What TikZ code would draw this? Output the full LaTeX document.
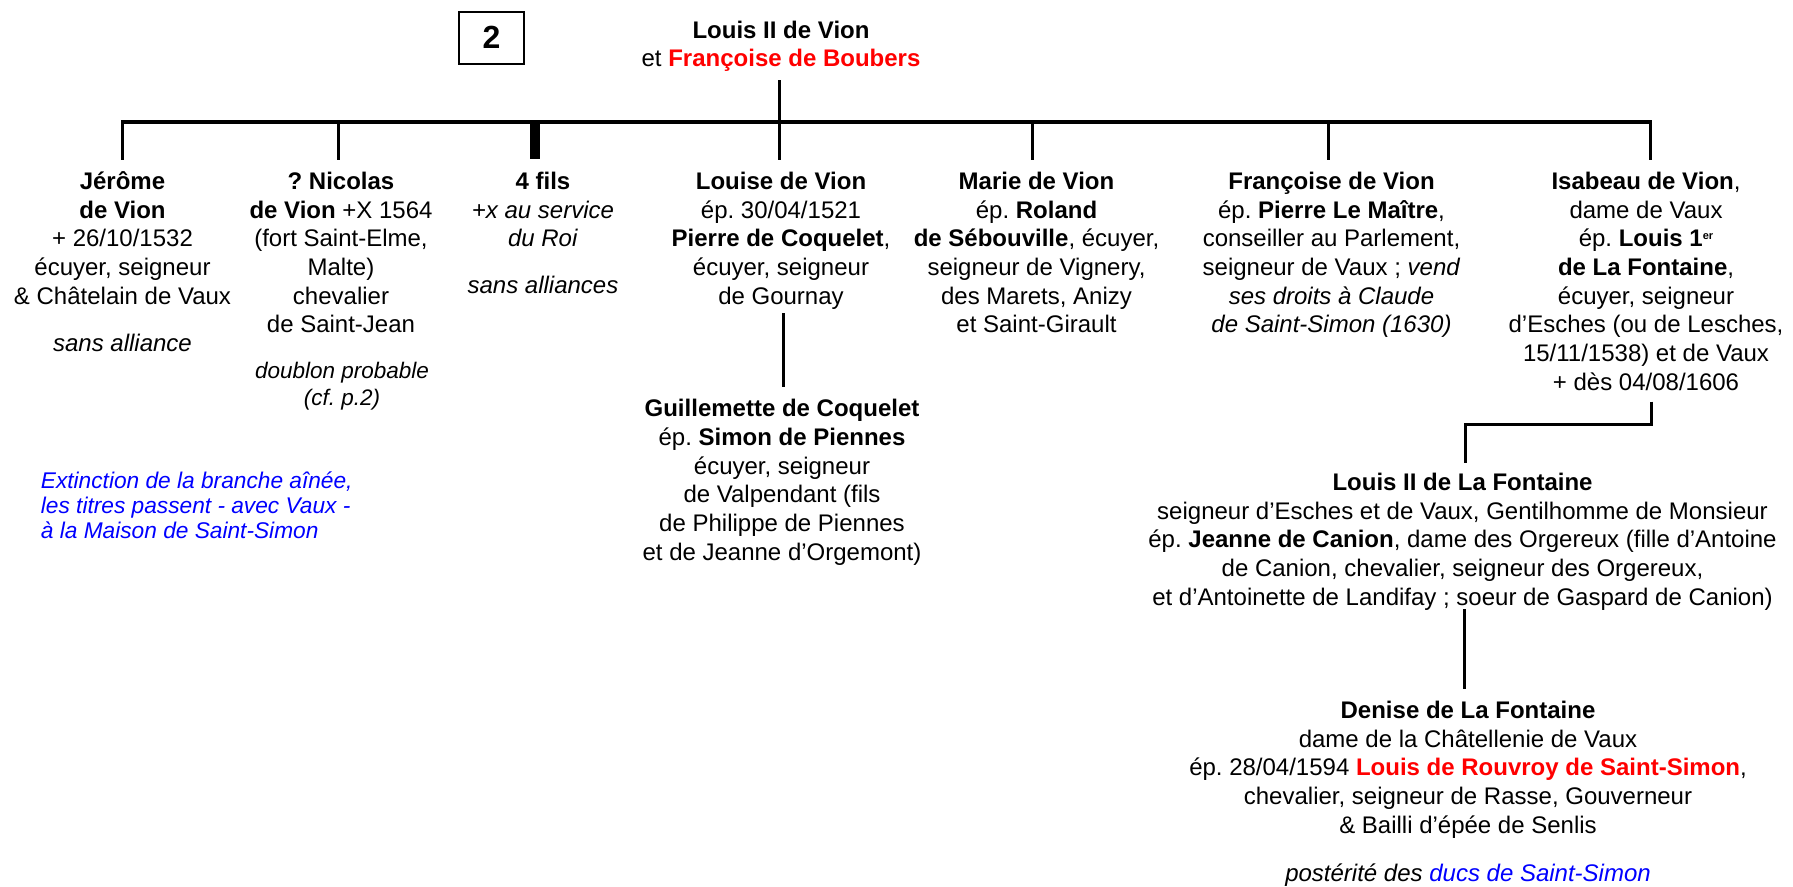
\documentclass[tikz,border=0pt]{standalone}
\usepackage{fontspec}
\setmainfont{Liberation Sans}
\usepackage{xcolor}
\definecolor{fred}{RGB}{255,0,0}
\definecolor{fblue}{RGB}{0,0,255}
\frenchspacing
\newcommand\lns[1]{\vtop{\lineskiplimit=-\maxdimen\lineskip=0pt\halign{\hfil##\hfil\cr#1\crcr}}}
\newcommand\lnsl[1]{\vtop{\lineskiplimit=-\maxdimen\lineskip=0pt\halign{##\hfil\cr#1\crcr}}}
\newcommand\supr[1]{\raisebox{7.5pt}{\fontsize{11}{11}\selectfont #1}}
\begin{document}
\begin{tikzpicture}[x=1pt,y=-1pt,
  txt/.style={anchor=base, inner sep=0pt, font=\fontsize{24}{28.7}\selectfont},
  small/.style={anchor=base, inner sep=0pt, font=\fontsize{22.5}{27}\selectfont\itshape},
  note/.style={anchor=base west, inner sep=0pt, text=fblue, font=\fontsize{22.7}{25}\selectfont\itshape},
  bar/.style={line width=4pt},
  link/.style={line width=3pt},
  thick link/.style={line width=10pt}]
\useasboundingbox (0,0) rectangle (1793,886);

% box 2
\node[draw, line width=2pt, minimum width=65pt, minimum height=52pt, inner sep=0pt,
  font=\fontsize{32}{36}\selectfont\bfseries] (box2) at (491.5,37.5) {2};

% parents
\node[txt] (parent) at (781,38) {\lns{\textbf{Louis II de Vion}\cr
  et \textcolor{fred}{\textbf{Françoise de Boubers}}}};

% children
\node[txt] (jerome) at (122.5,189.3) {\lns{\textbf{Jérôme}\cr \textbf{de Vion}\cr
  + 26/10/1532\cr écuyer, seigneur\cr \& Châtelain de Vaux}};
\node[txt] (jeromeN) at (122.5,351.7) {\textit{sans alliance}};

\node[txt] (nicolas) at (341,189.3) {\lns{\textbf{? Nicolas}\cr \textbf{de Vion} +X 1564\cr
  (fort Saint-Elme,\cr Malte)\cr chevalier\cr de Saint-Jean}};
\node[small] (nicolasN) at (342,378) {\lns{doublon probable\cr (cf. p.2)}};

\node[txt] (fils) at (543,189.3) {\lns{\textbf{4 fils}\cr \textit{+x au service}\cr \textit{du Roi}}};
\node[txt] (filsN) at (543,293) {\textit{sans alliances}};

\node[txt] (louise) at (781,189.3) {\lns{\textbf{Louise de Vion}\cr ép. 30/04/1521\cr
  \textbf{Pierre de Coquelet},\cr écuyer, seigneur\cr de Gournay}};

\node[txt] (guill) at (782,416.7) {\lns{\textbf{Guillemette de Coquelet}\cr
  ép. \textbf{Simon de Piennes}\cr écuyer, seigneur\cr de Valpendant (fils\cr
  de Philippe de Piennes\cr et de Jeanne d’Orgemont)}};

\node[txt] (marie) at (1036.5,189.3) {\lns{\textbf{Marie de Vion}\cr ép. \textbf{Roland}\cr
  \textbf{de Sébouville}, écuyer,\cr seigneur de Vignery,\cr des Marets, Anizy\cr et Saint-Girault}};

\node[txt] (francoise) at (1331.5,189.3) {\lns{\textbf{Françoise de Vion}\cr
  ép. \textbf{Pierre Le Maître},\cr conseiller au Parlement,\cr
  seigneur de Vaux ; \textit{vend}\cr \textit{ses droits à Claude}\cr \textit{de Saint-Simon (1630)}}};

\node[txt] (isabeau) at (1646,189.3) {\lns{\textbf{Isabeau de Vion},\cr dame de Vaux\cr
  ép. \textbf{Louis 1\supr{er}}\cr \textbf{de La Fontaine},\cr écuyer, seigneur\cr
  d’Esches (ou de Lesches,\cr 15/11/1538) et de Vaux\cr + dès 04/08/1606}};

\node[txt] (louisLF) at (1462.5,490.5) {\lns{\textbf{Louis II de La Fontaine}\cr
  seigneur d’Esches et de Vaux, Gentilhomme de Monsieur\cr
  ép. \textbf{Jeanne de Canion}, dame des Orgereux (fille d’Antoine\cr
  de Canion, chevalier, seigneur des Orgereux,\cr
  et d’Antoinette de Landifay ; soeur de Gaspard de Canion)}};

\node[txt] (denise) at (1468,718.5) {\lns{\textbf{Denise de La Fontaine}\cr
  dame de la Châtellenie de Vaux\cr
  ép. 28/04/1594 \textcolor{fred}{\textbf{Louis de Rouvroy de Saint-Simon}},\cr
  chevalier, seigneur de Rasse, Gouverneur\cr \& Bailli d’épée de Senlis}};
\node[txt] (deniseN) at (1468,881) {\textit{postérité des \textcolor{fblue}{ducs de Saint-Simon}}};

\node[note] (extinct) at (40.7,488.3) {\lnsl{Extinction de la branche aînée,\cr
  les titres passent - avec Vaux -\cr à la Maison de Saint-Simon}};

% connectors
\coordinate (pTop) at (779.6,80);
\coordinate (bL) at (121.3,121.7);
\coordinate (bR) at (1651.5,121.7);
\coordinate (bJ) at (122.8,121.7);   \coordinate (eJ) at (122.8,160);
\coordinate (bN) at (338.2,121.7);   \coordinate (eN) at (338.2,160);
\coordinate (bF) at (534.5,123.7);   \coordinate (eF) at (534.5,159);
\coordinate (bLo) at (779.6,121.7);  \coordinate (eLo) at (779.6,160);
\coordinate (bM) at (1032.8,121.7);  \coordinate (eM) at (1032.8,160);
\coordinate (bFr) at (1328.4,121.7); \coordinate (eFr) at (1328.4,160);
\coordinate (bI) at (1650,121.7);    \coordinate (eI) at (1650,160);
\coordinate (gTop) at (783.5,313);   \coordinate (gBot) at (783.5,387);
\coordinate (iTop) at (1651,401.7);  \coordinate (iMid) at (1651,424.3);
\coordinate (lMid) at (1465.7,424.3); \coordinate (lBot) at (1465.7,463.3);
\coordinate (dTop) at (1464.3,609);  \coordinate (dBot) at (1464.3,689.3);

\draw[bar] (bL) -- (bR);
\draw[link] (pTop) -- (eLo);
\draw[link] (bJ) -- (eJ);
\draw[link] (bN) -- (eN);
\draw[thick link] (bF) -- (eF);
\draw[link] (bM) -- (eM);
\draw[link] (bFr) -- (eFr);
\draw[link] (bI) -- (eI);
\draw[link] (gTop) -- (gBot);
\draw[link] (iTop) -- (iMid) -- (lMid) -- (lBot);
\draw[link] (dTop) -- (dBot);
\end{tikzpicture}
\end{document}
